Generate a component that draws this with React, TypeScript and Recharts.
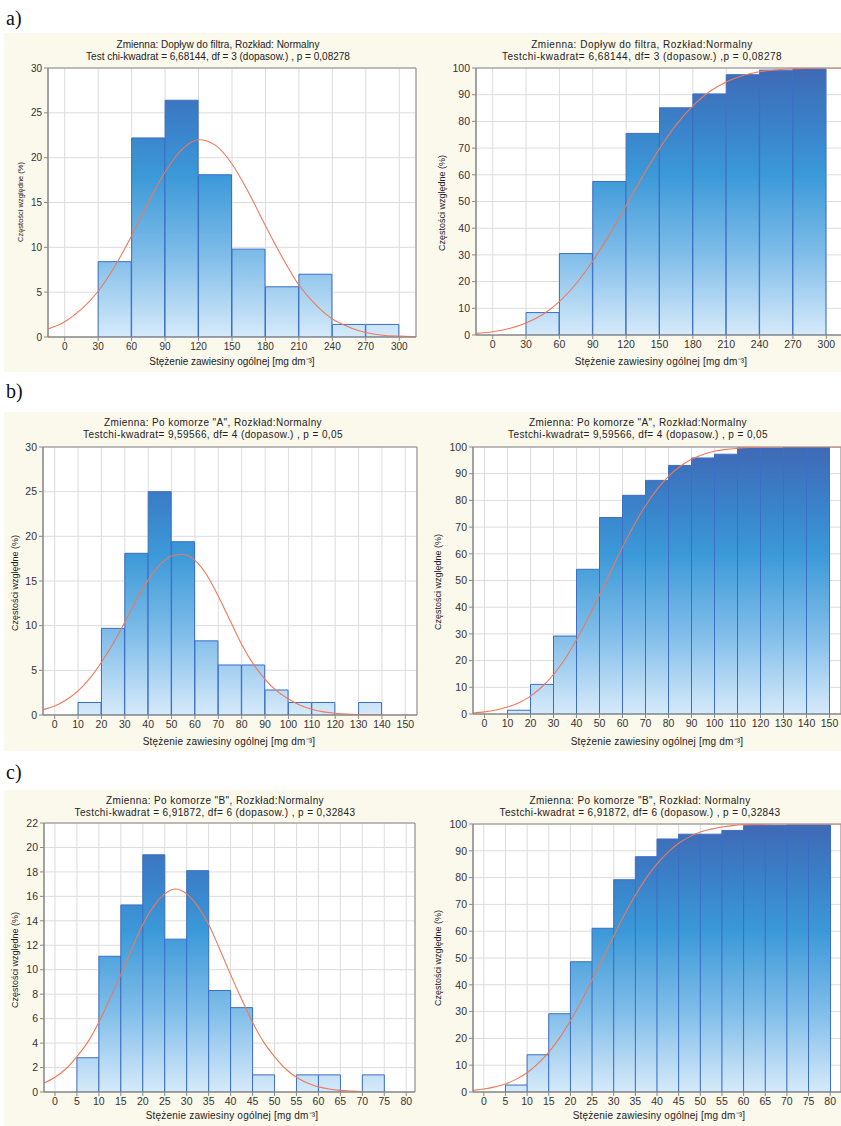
import React from "react";
import {
  ComposedChart,
  Bar,
  Line,
  XAxis,
  YAxis,
  CartesianGrid,
  ReferenceArea,
} from "recharts";

// a) Dopływ do filtra  (bins 30 mg/dm3 wide, lower edges)
const binsA = [30, 60, 90, 120, 150, 180, 210, 240, 270];
const histA = [8.4, 22.2, 26.4, 18.1, 9.8, 5.6, 7.0, 1.4, 1.4];
const cumA = [8.4, 30.5, 57.5, 75.5, 85.1, 90.3, 97.5, 99.2, 99.6];
const fitXA = [-15, 0, 15, 30, 45, 60, 75, 90, 105, 120, 135, 150, 165, 180, 195, 210, 225, 240, 255, 270, 285, 300, 315];
const fitA = [0.9, 1.7, 3.1, 5.1, 7.9, 11.3, 15.0, 18.4, 20.9, 22.0, 21.4, 19.3, 16.1, 12.4, 8.9, 5.8, 3.6, 2.0, 1.1, 0.5, 0.2, 0.1, 0.03];
const fitCumA = [0.6, 1.2, 2.4, 4.5, 7.7, 12.5, 19.2, 27.7, 37.6, 48.5, 59.5, 69.8, 78.7, 85.8, 91.2, 94.8, 97.2, 98.6, 99.3, 99.7, 99.9, 100, 100];
const ticksXA = [0, 30, 60, 90, 120, 150, 180, 210, 240, 270, 300];

// b) Po komorze "A"  (bins 10 wide)
const binsB = [10, 20, 30, 40, 50, 60, 70, 80, 90, 100, 110, 120, 130];
const histB = [1.4, 9.7, 18.1, 25.0, 19.4, 8.3, 5.6, 5.6, 2.8, 1.4, 1.4, 0, 1.4];
const binsCumB = [10, 20, 30, 40, 50, 60, 70, 80, 90, 100, 110, 120, 130, 140];
const cumB = [1.4, 11.1, 29.2, 54.2, 73.6, 81.9, 87.5, 93.1, 95.9, 97.3, 99.6, 99.6, 100, 100];
const fitXB = [-5, 0, 5, 10, 15, 20, 25, 30, 35, 40, 45, 50, 55, 60, 65, 70, 75, 80, 85, 90, 95, 100, 105, 110, 115, 120, 125, 130, 135, 140];
const fitB = [0.6, 1.0, 1.7, 2.7, 4.1, 5.9, 8.0, 10.4, 12.9, 15.1, 16.8, 17.8, 18.0, 17.3, 15.7, 13.3, 10.6, 7.9, 5.7, 4.0, 2.7, 1.8, 1.1, 0.65, 0.35, 0.2, 0.1, 0.05, 0.02, 0.01];
const fitCumXB = [-5, 0, 5, 10, 15, 20, 25, 30, 35, 40, 45, 50, 55, 60, 65, 70, 75, 80, 85, 90, 95, 100, 105, 110, 115, 120, 125, 130, 135, 140, 145, 150, 155];
const fitCumB = [0.4, 0.8, 1.5, 2.6, 4.2, 6.7, 10.2, 14.8, 20.6, 27.8, 35.8, 44.6, 53.6, 62.5, 70.7, 78.0, 84.1, 89.0, 92.7, 95.4, 97.2, 98.4, 99.1, 99.5, 99.8, 99.9, 100, 100, 100, 100, 100, 100, 100];
const ticksXB = [0, 10, 20, 30, 40, 50, 60, 70, 80, 90, 100, 110, 120, 130, 140, 150];

// c) Po komorze "B"  (bins 5 wide)
const binsC = [5, 10, 15, 20, 25, 30, 35, 40, 45, 50, 55, 60, 65, 70];
const histC = [2.8, 11.1, 15.3, 19.4, 12.5, 18.1, 8.3, 6.9, 1.4, 0, 1.4, 1.4, 0, 1.4];
const binsCumC = [5, 10, 15, 20, 25, 30, 35, 40, 45, 50, 55, 60, 65, 70, 75];
const cumC = [2.6, 13.9, 29.2, 48.6, 61.1, 79.2, 87.8, 94.4, 96.2, 96.2, 97.6, 99.4, 99.4, 99.6, 99.6];
const fitXC = [-2.5, 0, 2.5, 5, 7.5, 10, 12.5, 15, 17.5, 20, 22.5, 25, 27.5, 30, 32.5, 35, 37.5, 40, 42.5, 45, 47.5, 50, 52.5, 55, 57.5, 60, 62.5, 65, 67.5, 70];
const fitC = [0.73, 1.2, 1.9, 2.9, 4.1, 5.7, 7.6, 9.6, 11.7, 13.7, 15.2, 16.2, 16.6, 16.2, 15.2, 13.7, 11.7, 9.6, 7.6, 5.7, 4.1, 2.9, 1.9, 1.2, 0.73, 0.42, 0.24, 0.13, 0.07, 0.03];
const fitCumXC = [-2.5, 0, 2.5, 5, 7.5, 10, 12.5, 15, 17.5, 20, 22.5, 25, 27.5, 30, 32.5, 35, 37.5, 40, 42.5, 45, 47.5, 50, 52.5, 55, 57.5, 60, 62.5, 65, 67.5, 70, 72.5, 75, 77.5, 80, 82.5];
const fitCumC = [0.6, 1.1, 1.9, 3.0, 4.8, 7.2, 10.6, 14.9, 20.2, 26.6, 33.8, 41.8, 50.0, 58.2, 66.2, 73.4, 79.8, 85.1, 89.4, 92.8, 95.2, 97.0, 98.1, 98.9, 99.4, 99.7, 99.8, 99.9, 100, 100, 100, 100, 100, 100, 100];
const ticksXC = [0, 5, 10, 15, 20, 25, 30, 35, 40, 45, 50, 55, 60, 65, 70, 75, 80];

const ticksY30 = [0, 5, 10, 15, 20, 25, 30];
const ticksY22 = [0, 2, 4, 6, 8, 10, 12, 14, 16, 18, 20, 22];
const ticksY100 = [0, 10, 20, 30, 40, 50, 60, 70, 80, 90, 100];

const Y_W = 40;
const M_TOP = 8;
const X_H = 22;
const FONT = "'Liberation Sans', Arial, sans-serif";
const X_LABEL = "Stężenie zawiesiny ogólnej [mg dm⁻³]";
const Y_LABEL = "Częstości względne (%)";

type PlotProps = {
  id: string;
  left: number;
  top: number;
  w: number;
  h: number;
  bins: number[];
  binW: number;
  values: number[];
  fitX: number[];
  fitY: number[];
  xDomain: [number, number];
  xTicks: number[];
  yMax: number;
  yTicks: number[];
  fs?: number;
};

function Plot(p: PlotProps) {
  const data = p.bins.map((b, i) => ({ mid: b + p.binW / 2, v: p.values[i] }));
  const fit = p.fitX.map((x, i) => ({ x, y: p.fitY[i] }));
  const fs = p.fs ?? 10;
  return (
    <div style={{ position: "absolute", left: p.left - Y_W, top: p.top - M_TOP }}>
      <ComposedChart
        width={Y_W + p.w + 2}
        height={M_TOP + p.h + X_H}
        data={data}
        margin={{ top: M_TOP, right: 2, bottom: 0, left: 0 }}
        barCategoryGap={0}
        barGap={0}
      >
        <defs>
          <linearGradient id={p.id} gradientUnits="userSpaceOnUse" x1={0} y1={M_TOP} x2={0} y2={M_TOP + p.h}>
            <stop offset="0" stopColor="#4069b4" />
            <stop offset="0.2" stopColor="#3a80c9" />
            <stop offset="0.4" stopColor="#3b99d8" />
            <stop offset="0.7" stopColor="#80bde9" />
            <stop offset="1" stopColor="#d6eafa" />
          </linearGradient>
        </defs>
        <CartesianGrid stroke="#dcdcdc" fill="#ffffff" fillOpacity={1} />
        <XAxis
          dataKey="mid"
          type="number"
          domain={p.xDomain}
          ticks={p.xTicks}
          interval={0}
          allowDataOverflow
          height={X_H}
          tickSize={4}
          tickMargin={2}
          stroke="#8a8a8a"
          tick={{ fontSize: fs, fill: "#333" }}
        />
        <XAxis xAxisId="fit" dataKey="x" type="number" domain={p.xDomain} allowDataOverflow hide />
        <YAxis
          type="number"
          domain={[0, p.yMax]}
          ticks={p.yTicks}
          interval={0}
          allowDataOverflow
          width={Y_W}
          tickSize={4}
          tickMargin={2}
          stroke="#8a8a8a"
          tick={{ fontSize: fs, fill: "#333" }}
        />
        <ReferenceArea x1={p.xDomain[0]} x2={p.xDomain[1]} y1={0} y2={p.yMax} fill="none" stroke="#8a8a8a" />
        <Bar dataKey="v" fill={`url(#${p.id})`} stroke="#3b6ec4" strokeWidth={1} isAnimationActive={false} />
        <Line
          xAxisId="fit"
          data={fit}
          dataKey="y"
          type="monotone"
          dot={false}
          stroke="#ef7859"
          strokeWidth={1.1}
          isAnimationActive={false}
        />
      </ComposedChart>
    </div>
  );
}

function Title({ cx, y, lines, ls = 0 }: { cx: number; y: number; lines: string[]; ls?: number }) {
  return (
    <div
      style={{
        position: "absolute",
        left: cx - 200,
        width: 400,
        top: y - 6,
        textAlign: "center",
        fontSize: 10,
        lineHeight: "12px",
        letterSpacing: ls,
        color: "#222",
        whiteSpace: "nowrap",
      }}
    >
      {lines.map((l) => (
        <div key={l}>{l}</div>
      ))}
    </div>
  );
}

function XLabel({ cx, y, ls = 0 }: { cx: number; y: number; ls?: number }) {
  return (
    <div
      style={{
        position: "absolute",
        left: cx - 150,
        width: 300,
        top: y - 6,
        textAlign: "center",
        fontSize: 10,
        lineHeight: "12px",
        letterSpacing: ls,
        color: "#222",
      }}
    >
      {X_LABEL}
    </div>
  );
}

function YLabel({ cx, cy, fs = 9 }: { cx: number; cy: number; fs?: number }) {
  return (
    <div
      style={{
        position: "absolute",
        left: cx,
        top: cy,
        transform: "translate(-50%, -50%) rotate(-90deg)",
        whiteSpace: "nowrap",
        fontSize: fs,
        color: "#222",
      }}
    >
      {Y_LABEL}
    </div>
  );
}

function Letter({ y, text }: { y: number; text: string }) {
  return (
    <div
      style={{
        position: "absolute",
        left: 6,
        top: y,
        fontFamily: "'Liberation Serif', 'Times New Roman', serif",
        fontSize: 20,
        lineHeight: "20px",
        color: "#111",
      }}
    >
      {text}
    </div>
  );
}

export default function App() {
  const strip = (top: number, height: number) => (
    <div style={{ position: "absolute", left: 4, top, width: 837, height, background: "#fbf8ec" }} />
  );
  return (
    <div
      style={{
        position: "absolute",
        left: 0,
        top: 0,
        width: 841,
        height: 1126,
        overflow: "hidden",
        background: "#fff",
        fontFamily: FONT,
      }}
    >
      <Letter y={8} text="a)" />
      <Letter y={381} text="b)" />
      <Letter y={762} text="c)" />
      {strip(33, 339)}
      {strip(412, 339)}
      {strip(790, 336)}

      {/* a) */}
      <Title cx={218} y={45} lines={["Zmienna:  Dopływ do filtra, Rozkład: Normalny", "Test chi-kwadrat = 6,68144, df = 3 (dopasow.) , p = 0,08278"]} />
      <Title cx={642} y={45} ls={0.5} lines={["Zmienna: Dopływ do filtra, Rozkład:Normalny", "Testchi-kwadrat= 6,68144, df= 3 (dopasow.) ,p = 0,08278"]} />
      <Plot id="gA1" left={48} top={68} w={368} h={269} bins={binsA} binW={30} values={histA} fitX={fitXA} fitY={fitA}
        xDomain={[-15, 315]} xTicks={ticksXA} yMax={30} yTicks={ticksY30} />
      <Plot id="gA2" left={476} top={68} w={367} h={267} bins={binsA} binW={30} values={cumA} fitX={fitXA} fitY={fitCumA}
        xDomain={[-15, 315]} xTicks={ticksXA} yMax={100} yTicks={ticksY100} fs={10.5} />
      <YLabel cx={20} cy={202} fs={7.5} />
      <YLabel cx={442} cy={203} />
      <XLabel cx={232} y={362} />
      <XLabel cx={661} y={362} ls={0.2} />

      {/* b) */}
      <Title cx={213} y={423} ls={0.4} lines={['Zmienna: Po komorze "A", Rozkład:Normalny', "Testchi-kwadrat= 9,59566, df= 4 (dopasow.) , p = 0,05"]} />
      <Title cx={638} y={423} ls={0.4} lines={['Zmienna: Po komorze "A", Rozkład:Normalny', "Testchi-kwadrat= 9,59566, df= 4 (dopasow.) , p = 0,05"]} />
      <Plot id="gB1" left={43} top={447} w={374} h={268} bins={binsB} binW={10} values={histB} fitX={fitXB} fitY={fitB}
        xDomain={[-5, 155]} xTicks={ticksXB} yMax={30} yTicks={ticksY30} fs={10.5} />
      <Plot id="gB2" left={473} top={447} w={368} h={267} bins={binsCumB} binW={10} values={cumB} fitX={fitCumXB} fitY={fitCumB}
        xDomain={[-5, 155]} xTicks={ticksXB} yMax={100} yTicks={ticksY100} fs={10.5} />
      <YLabel cx={15} cy={583} />
      <YLabel cx={438} cy={582} />
      <XLabel cx={229} y={742} ls={0.2} />
      <XLabel cx={657} y={742} ls={0.2} />

      {/* c) */}
      <Title cx={215} y={801} ls={0.4} lines={['Zmienna: Po komorze "B", Rozkład:Normalny', "Testchi-kwadrat = 6,91872, df= 6 (dopasow.) , p = 0,32843"]} />
      <Title cx={640} y={801} ls={0.4} lines={['Zmienna: Po komorze "B", Rozkład: Normalny', "Testchi-kwadrat = 6,91872, df= 6 (dopasow.) , p = 0,32843"]} />
      <Plot id="gC1" left={44} top={823} w={371} h={269} bins={binsC} binW={5} values={histC} fitX={fitXC} fitY={fitC}
        xDomain={[-2.5, 82]} xTicks={ticksXC} yMax={22} yTicks={ticksY22} fs={10.5} />
      <Plot id="gC2" left={473} top={824} w={368} h={268} bins={binsCumC} binW={5} values={cumC} fitX={fitCumXC} fitY={fitCumC}
        xDomain={[-2.5, 82.5]} xTicks={ticksXC} yMax={100} yTicks={ticksY100} fs={10.5} />
      <YLabel cx={15} cy={960} />
      <YLabel cx={438} cy={958} />
      <XLabel cx={232} y={1116} ls={0.2} />
      <XLabel cx={659} y={1116} ls={0.2} />
    </div>
  );
}
